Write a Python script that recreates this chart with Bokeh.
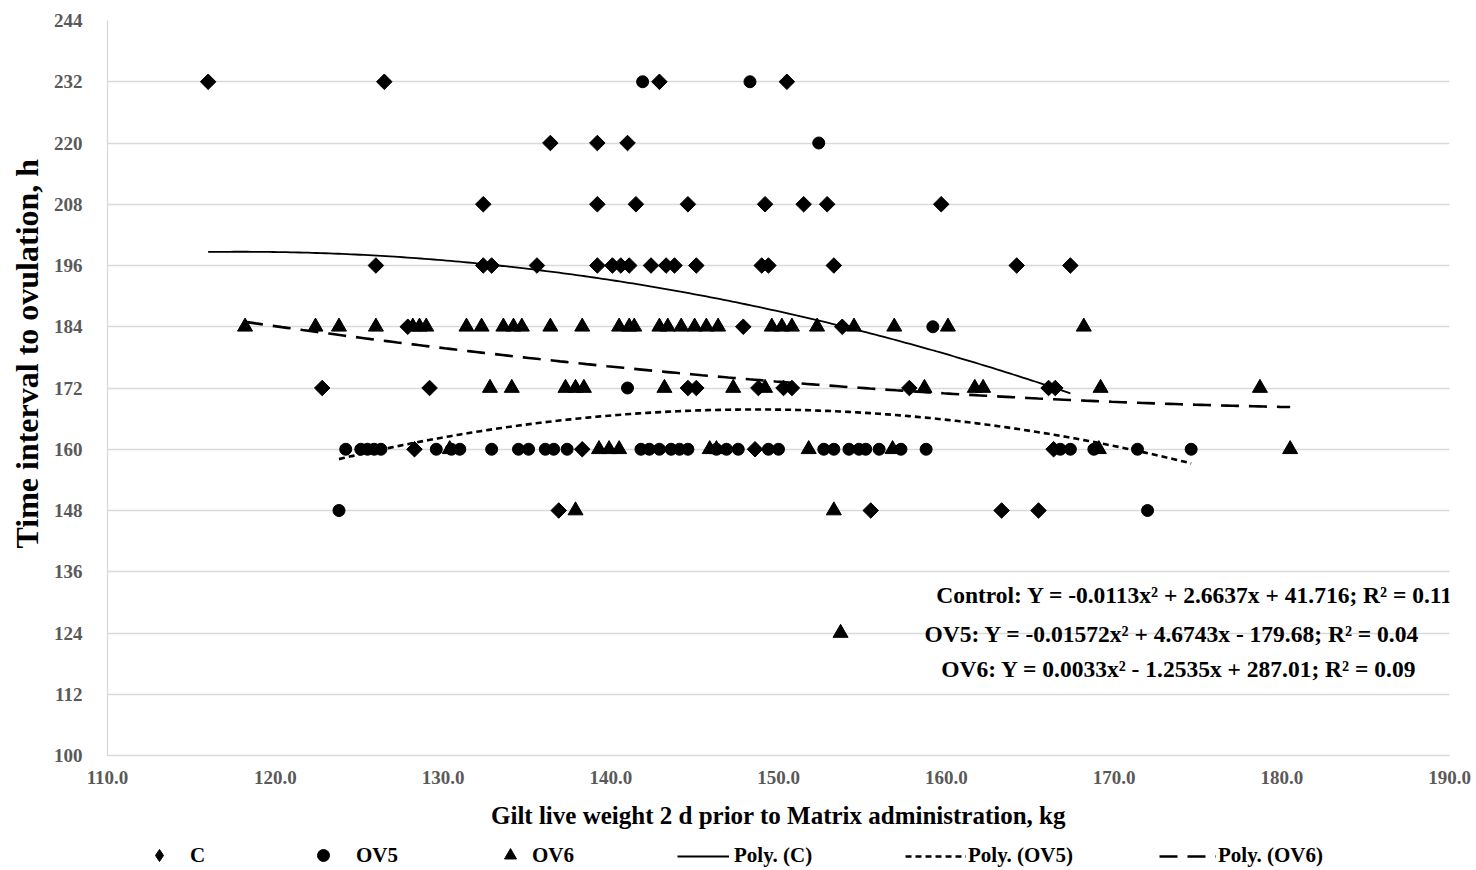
import numpy as np
from bokeh.plotting import figure
from bokeh.layouts import column
from bokeh.models import (Range1d, FixedTicker, NumeralTickFormatter, Legend,
                          LegendItem, Label, Title)
from bokeh.embed import file_html
from bokeh.resources import INLINE

# ---------------- data ----------------
c_x = [116.0, 126.5, 142.9, 150.5,
       136.4, 139.2, 141.0,
       132.4, 139.2, 141.5, 144.6, 149.2, 151.5, 152.9, 159.7,
       126.0, 132.4, 132.9, 135.6, 139.2, 140.1, 140.6, 141.1, 142.4, 143.3,
       143.8, 145.1, 149.0, 149.4, 153.3, 164.2, 167.4,
       127.9, 147.9, 153.8,
       122.8, 129.2, 144.6, 145.1, 148.8, 150.3, 150.8, 157.8, 166.1, 166.5,
       128.3, 138.3, 148.6, 166.4,
       136.9, 155.5, 163.3, 165.5]
c_y = [232] * 4 + [220] * 3 + [208] * 8 + [196] * 17 + [184] * 3 + [172] * 10 + [160] * 4 + [148] * 4

ov5_x = [141.9, 148.3,
         152.4,
         159.2,
         141.0,
         124.2, 125.1, 125.5, 125.9, 126.3, 129.6, 130.5, 131.0, 132.9, 134.5,
         135.1, 136.1, 136.6, 137.4, 141.8, 142.3, 142.9, 143.6, 144.1, 144.6,
         146.3, 146.9, 147.6, 149.4, 150.0, 152.7, 153.3, 154.2, 154.8, 155.2,
         156.0, 157.3, 158.8, 166.8, 167.4, 168.8, 171.4, 174.6,
         123.8, 172.0]
ov5_y = [232] * 2 + [220] + [184] + [172] + [160] * 38 + [148] * 2

ov6_x = [118.2, 122.4, 123.8, 126.0, 128.2, 128.6, 129.0, 131.4, 132.3, 133.6,
         134.2, 134.7, 136.4, 138.3, 140.5, 141.1, 141.4, 142.9, 143.4, 144.2,
         145.0, 145.7, 146.4, 149.6, 150.2, 150.8, 152.3, 154.5, 156.9, 160.1,
         168.2,
         132.8, 134.1, 137.3, 137.9, 138.4, 143.2, 147.3, 149.2, 158.7, 161.7,
         162.2, 169.2, 178.7,
         130.4, 139.3, 139.9, 140.5, 145.9, 146.3, 151.8, 156.8, 169.1, 180.5,
         137.9, 153.3,
         153.7]
ov6_y = [184] * 31 + [172] * 13 + [160] * 10 + [148] * 2 + [124]

# trend-line coefficients as printed on the chart (a x^2 + b x + c)
c_coef = [-0.0113, 2.6637, 41.716]
ov5_coef = [-0.01572, 4.6743, -179.68]
ov6_coef = [0.0033, -1.2535, 287.01]

eq_texts = ["Control: Y = -0.0113x\u00b2 + 2.6637x + 41.716; R\u00b2 = 0.11",
            "OV5: Y = -0.01572x\u00b2 + 4.6743x - 179.68; R\u00b2 = 0.04",
            "OV6: Y = 0.0033x\u00b2 - 1.2535x + 287.01; R\u00b2 = 0.09"]

legend_labels = ["C", "OV5", "OV6", "Poly. (C)", "Poly. (OV5)", "Poly. (OV6)"]

y_ticks = list(range(100, 245, 12))
x_ticks = list(range(110, 191, 10))

# ---------------- styles ----------------
SERIF = "Liberation Serif"
C_STYLE = dict(marker="square", angle=np.pi / 4, size=11, fill_color="black", line_color="black")
OV5_STYLE = dict(marker="circle", size=12, fill_color="black", line_color="black")
OV6_STYLE = dict(marker="triangle", size=15, fill_color="black", line_color="black")
TC_STYLE = dict(line_color="black", line_width=1.8)
T5_STYLE = dict(line_color="black", line_width=2.6, line_dash="6 4")
T6_STYLE = dict(line_color="black", line_width=2.6, line_dash="18 10")

# ---------------- main figure ----------------
p = figure(width=1476, height=840, output_backend="svg", toolbar_location=None,
           x_range=Range1d(110, 190), y_range=Range1d(100, 244),
           min_border_left=105, min_border_right=27, min_border_top=20,
           min_border_bottom=85)
p.outline_line_color = None
p.background_fill_color = "white"
p.border_fill_color = "white"

p.xgrid.grid_line_color = None
p.ygrid.grid_line_color = "#d9d9d9"
p.ygrid.grid_line_width = 1.3

for ax in (p.xaxis[0], p.yaxis[0]):
    ax.axis_line_color = "#d9d9d9"
    ax.axis_line_width = 1.3
    ax.major_tick_line_color = None
    ax.minor_tick_line_color = None
    ax.major_label_text_font = SERIF
    ax.major_label_text_font_style = "bold"
    ax.major_label_text_font_size = "19px"
    ax.major_label_text_color = "#595959"
    ax.axis_label_text_font = SERIF
    ax.axis_label_text_font_style = "bold"
    ax.axis_label_text_color = "black"

p.xaxis.ticker = FixedTicker(ticks=x_ticks)
p.xaxis.formatter = NumeralTickFormatter(format="0.0")
p.yaxis.ticker = FixedTicker(ticks=y_ticks)
p.xaxis.major_label_standoff = 9
p.yaxis.major_label_standoff = 19
p.xaxis.axis_label = "Gilt live weight 2 d prior to Matrix administration, kg"
p.xaxis.axis_label_text_font_size = "25px"
p.xaxis.axis_label_standoff = 15

# y-axis title as a side title so it can sit above the frame's centre like the reference
p.add_layout(Title(text="Time interval to ovulation, h", align="left", offset=207,
                   text_font=SERIF, text_font_style="bold", text_font_size="32px",
                   text_color="black", standoff=12), "left")

# trend lines
def trend(xs, coef):
    xx = np.linspace(min(xs), max(xs), 200)
    return xx, np.polyval(coef, xx)

tx, ty = trend(c_x, c_coef)
p.line(tx, ty, **TC_STYLE)
tx, ty = trend(ov5_x, ov5_coef)
p.line(tx, ty, **T5_STYLE)
tx, ty = trend(ov6_x, ov6_coef)
p.line(tx, ty, **T6_STYLE)

# markers
p.scatter(c_x, c_y, **C_STYLE)
p.scatter(ov5_x, ov5_y, **OV5_STYLE)
p.scatter(ov6_x, ov6_y, **OV6_STYLE)

# equations
eq_pos = [(159.4, 131.5), (158.7, 123.9), (159.7, 117.0)]
for (ex, ey), t in zip(eq_pos, eq_texts):
    p.add_layout(Label(x=ex, y=ey, text=t, text_font=SERIF, text_font_style="bold",
                       text_font_size="23.5px", text_color="black",
                       text_baseline="middle", text_align="left"))

# ---------------- legend strip (frame aligned with the chart's frame) ----------------
lg = figure(width=1476, height=30, output_backend="svg", toolbar_location=None,
            x_range=Range1d(0, 1), y_range=Range1d(0, 1),
            x_axis_type=None, y_axis_type=None,
            min_border_left=0, min_border_right=0, min_border_top=0, min_border_bottom=0)
lg.outline_line_color = None
lg.grid.visible = False
lg.background_fill_color = "white"
lg.border_fill_color = "white"

LEG_C = dict(C_STYLE, marker="diamond", angle=0)
# legend proxies: kept outside the strip's visible range, only their legend glyphs show
proxies = [lg.scatter([5], [5], **LEG_C), lg.scatter([5], [5], **OV5_STYLE),
           lg.scatter([5], [5], **OV6_STYLE), lg.line([5, 6], [5, 5], **TC_STYLE),
           lg.line([5, 6], [5, 5], **T5_STYLE), lg.line([5, 6], [5, 5], **T6_STYLE)]
# (x offset from frame left, glyph width, glyph height, label standoff, y offset)
slots = [(37, 30, 30, 16, 0), (201, 30, 30, 18, 0), (388, 30, 30, 7, 0),
         (570, 52, 20, 5, 2), (798, 61, 20, 2, 2), (1052, 57, 20, 2, 2)]
for r, lab, (lx, gw, gh, so, ly) in zip(proxies, legend_labels, slots):
    leg = Legend(items=[LegendItem(label=lab, renderers=[r])],
                 location=(lx, ly), orientation="horizontal",
                 glyph_width=gw, glyph_height=gh, label_height=20,
                 label_standoff=so, padding=0, margin=0, spacing=0,
                 border_line_color=None, background_fill_alpha=0,
                 label_text_font=SERIF, label_text_font_style="bold",
                 label_text_font_size="21px", label_text_color="black")
    lg.add_layout(leg, "center")

layout = column(p, lg, spacing=0)
open("out.html", "w").write(file_html(layout, INLINE))
